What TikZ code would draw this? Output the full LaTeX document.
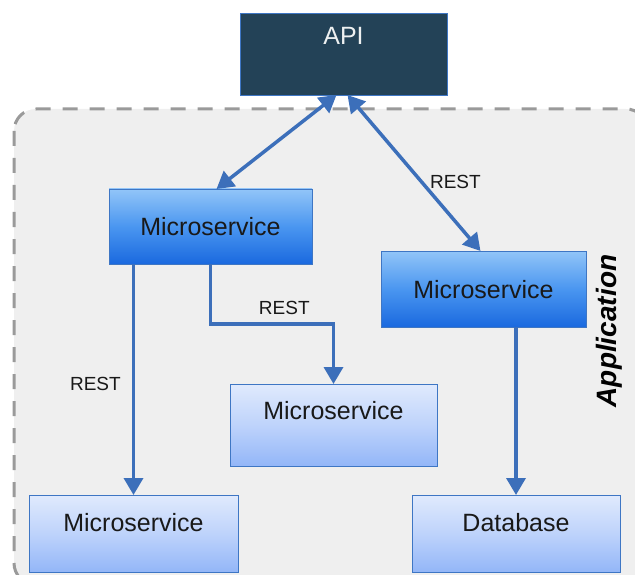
\documentclass[tikz,border=0pt]{standalone}
\usepackage{fontspec}
\setmainfont{Liberation Sans}
\usetikzlibrary{arrows.meta}

\definecolor{apifill}{HTML}{234257}
\definecolor{boxline}{HTML}{3E76C4}
\definecolor{linkblue}{HTML}{3C6FBA}
\definecolor{appgray}{HTML}{EFEFEF}
\definecolor{dashgray}{HTML}{9A9A9A}
\definecolor{darktop}{HTML}{92C5F8}
\definecolor{darkmid}{HTML}{4A96F0}
\definecolor{darkbottom}{HTML}{1A69DF}
\definecolor{lighttop}{HTML}{E0EAFD}
\definecolor{lightmid}{HTML}{BED3FB}
\definecolor{lightbottom}{HTML}{93B6F8}

\tikzset{
  box/.style = {rectangle, inner sep=0pt, outer sep=0pt,
    draw=boxline, line width=0.8pt, align=center,
    text height=18pt, text=black!90,
    font=\fontsize{25}{28}\selectfont},
  darkbox/.style = {box, top color=darktop, bottom color=darkbottom,
    middle color=darkmid},
  lightbox/.style = {box, top color=lighttop, bottom color=lightbottom,
    middle color=lightmid},
  link/.style = {draw=linkblue, line width=3.5pt,
    -{Triangle[width=19pt 0 0,length=17pt 0 0]}},
  bilink/.style = {link, {Triangle[width=19pt 0 0,length=17pt 0 0]}-{Triangle[width=19pt 0 0,length=17pt 0 0]}},
  tag/.style = {inner sep=2pt, text=black!90,
    font=\fontsize{19}{21}\selectfont}
}

\begin{document}
\begin{tikzpicture}[x=1pt, y=-1pt]
  \useasboundingbox (0,0) rectangle (635,575);
  \clip (0,0) rectangle (635,575);

  % application area
  \draw[fill=appgray, draw=dashgray, line width=3pt,
    dash pattern=on 15pt off 12pt, rounded corners=22pt]
    (14,109) rectangle (648,585);
  \node[rotate=90, font=\fontsize{28}{30}\selectfont\bfseries\itshape]
    (applabel) at (609,331) {Application};

  % boxes
  \node[box, fill=apifill, draw=boxline, text=white!92!apifill,
    minimum width=207pt, minimum height=82pt, text depth=36pt]
    (api) at (343.5,54) {API};
  \node[darkbox, minimum width=203pt, minimum height=75pt, text depth=0pt]
    (msleft) at (210.5,226.5) {Microservice};
  \node[darkbox, minimum width=205pt, minimum height=76pt, text depth=0pt]
    (msright) at (483.5,289) {Microservice};
  \node[lightbox, minimum width=207pt, minimum height=82pt, text depth=30pt]
    (msmid) at (333.5,425) {Microservice};
  \node[lightbox, minimum width=209pt, minimum height=77pt, text depth=23pt]
    (msbottom) at (133.5,533.5) {Microservice};
  \node[lightbox, minimum width=208pt, minimum height=77pt, text depth=23pt]
    (db) at (516,533.5) {Database};

  % connectors
  \draw[bilink] ([xshift=-7pt]api.south) -- ([xshift=6pt]msleft.north);
  \draw[bilink] ([xshift=4pt]api.south) --
    node[tag, pos=0.555, anchor=west, xshift=5pt] {REST}
    ([xshift=-3pt]msright.north);
  \draw[link] (msbottom.north |- msleft.south) --
    node[tag, pos=0.52, anchor=east, xshift=-9pt] {REST} (msbottom.north);
  \draw[link] (msleft.south) -- ++(0,60) -|
    node[tag, pos=0.3, anchor=south, yshift=6pt] {REST} (msmid.north);
  \draw[link] (db.north |- msright.south) -- (db.north);
\end{tikzpicture}
\end{document}
